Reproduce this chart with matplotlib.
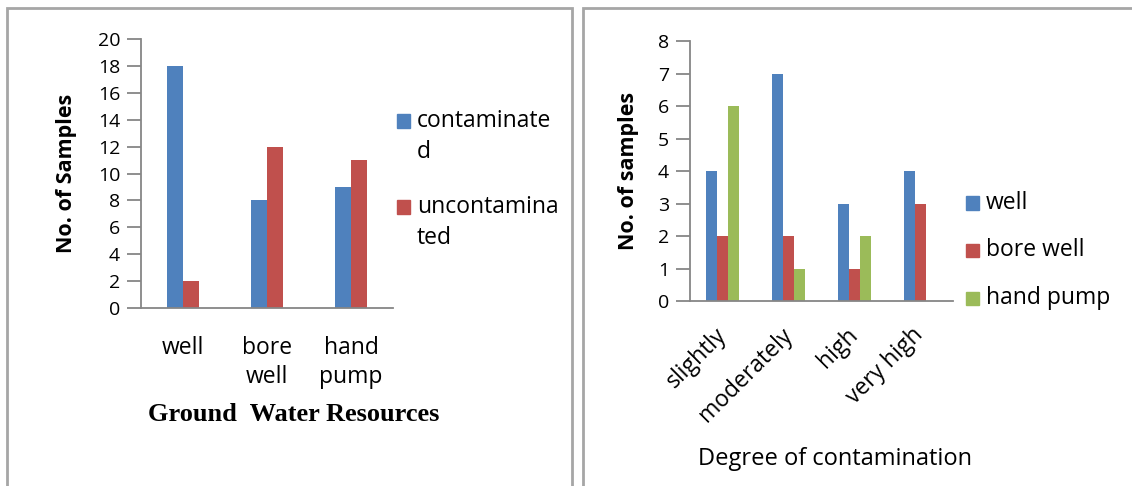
import matplotlib
matplotlib.use('Agg')
import matplotlib.pyplot as plt
from matplotlib.patches import Rectangle
import numpy as np

plt.rcParams['font.family'] = ['Open Sans', 'DejaVu Sans']

# left chart: ground water resources
sources = ['well', 'bore\nwell', 'hand\npump']
contaminated = [18, 8, 9]
uncontaminated = [2, 12, 11]
left_names = ['contaminate\nd', 'uncontamina\nted']

# right chart: degree of contamination
degrees = ['slightly', 'moderately', 'high', 'very high']
well = [4, 7, 3, 4]
bore_well = [2, 2, 1, 3]
hand_pump = [6, 1, 2, 0]
right_names = ['well', 'bore well', 'hand pump']

blue = '#4F81BD'
red = '#C0504D'
green = '#9BBB59'
grey = '#868686'
txt = 16.5

W, H = 1132, 486
fig = plt.figure(figsize=(W / 100, H / 100), dpi=100)


def px_axes(x0, y0, x1, y1):
    return fig.add_axes([x0 / W, 1 - y1 / H, (x1 - x0) / W, (y1 - y0) / H])


def style(ax):
    for s in ['top', 'right']:
        ax.spines[s].set_visible(False)
    for s in ['left', 'bottom']:
        ax.spines[s].set_color(grey)
        ax.spines[s].set_linewidth(1.3)
    ax.tick_params(axis='y', direction='out', length=10, width=1.3,
                   color=grey, labelsize=14, pad=5)
    ax.tick_params(axis='x', length=0)


def legend(names, colors, x, ys, lines_gap):
    # manual legend: square next to first line of each label
    for name, col, y in zip(names, colors, ys):
        fig.patches.append(Rectangle((x / W, 1 - (y + 6.5) / H), 13 / W, 13 / H,
                                     transform=fig.transFigure, color=col))
        for k, part in enumerate(name.split('\n')):
            fig.text((x + 20) / W, 1 - (y + k * lines_gap) / H, part,
                     fontsize=txt, va='center', ha='left')


# panel borders
fig.patches.append(Rectangle((7 / W, -0.05), (572 - 7) / W, 1 - 8 / H + 0.05,
                             transform=fig.transFigure, fill=False,
                             edgecolor='#a6a6a6', linewidth=2))
fig.patches.append(Rectangle((583 / W, -0.05), 0.6, 1 - 8 / H + 0.05,
                             transform=fig.transFigure, fill=False,
                             edgecolor='#a6a6a6', linewidth=2))

# left chart
ax1 = px_axes(141, 39, 393, 308)
x = np.arange(len(sources))
bw = 0.185
ax1.bar(x - bw / 2, contaminated, bw, color=blue)
ax1.bar(x + bw / 2, uncontaminated, bw, color=red)
ax1.set_xlim(-0.5, len(sources) - 0.5)
ax1.set_ylim(0, 20)
ax1.set_yticks(range(0, 21, 2))
ax1.set_xticks(x)
ax1.set_xticklabels(sources, fontsize=txt, linespacing=1.3)
ax1.tick_params(axis='x', pad=20)
style(ax1)
ax1.set_ylabel('No. of Samples', fontsize=15.5, fontweight='bold')
ax1.yaxis.set_label_coords(-0.255, 0.5)
ax1.set_xlabel('Ground  Water Resources', fontsize=19, fontweight='bold',
               family='Liberation Serif')
ax1.xaxis.set_label_coords(0.605, -0.355)
legend(left_names, [blue, red], 397, [121, 207], 31)

# right chart
ax2 = px_axes(690, 41, 953, 301)
x = np.arange(len(degrees))
bw = 0.167
ax2.bar(x - bw, well, bw, color=blue)
ax2.bar(x, bore_well, bw, color=red)
ax2.bar(x + bw, hand_pump, bw, color=green)
ax2.set_xlim(-0.5, len(degrees) - 0.5)
ax2.set_ylim(0, 8)
ax2.set_yticks(range(0, 9))
ax2.set_xticks(x)
ax2.set_xticklabels(degrees, fontsize=txt, rotation=45, ha='right',
                    rotation_mode='anchor', va='center')
ax2.tick_params(axis='x', pad=22)
style(ax2)
ax2.set_ylabel('No. of samples', fontsize=15.5, fontweight='bold')
ax2.yaxis.set_label_coords(-0.195, 0.5)
ax2.set_xlabel('Degree of contamination', fontsize=17)
ax2.xaxis.set_label_coords(0.55, -0.56)
legend(right_names, [blue, red, green], 966, [203, 250, 298], 0)

fig.savefig('out.png', dpi=100, facecolor='white')
